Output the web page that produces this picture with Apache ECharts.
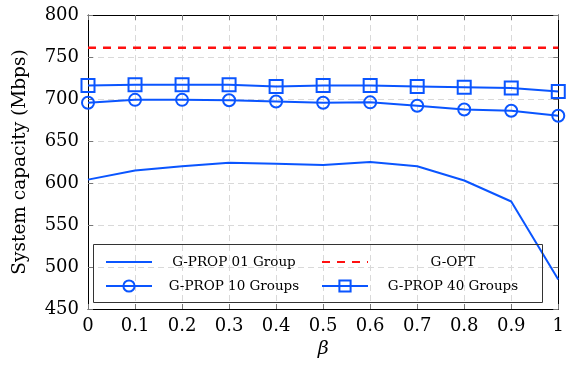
<!DOCTYPE html>
<html>
<head>
<meta charset="utf-8">
<script src="https://cdn.jsdelivr.net/npm/echarts@6/dist/echarts.min.js"></script>
<style>
  html, body { margin: 0; padding: 0; background: #fff; }
  #chart { width: 567px; height: 365px; }
</style>
</head>
<body>
<div id="chart"></div>
<script>
// System capacity versus beta for the grouping schemes
const betaValues = [0, 0.1, 0.2, 0.3, 0.4, 0.5, 0.6, 0.7, 0.8, 0.9, 1];
const cap01Group = [604, 615, 620, 624, 623, 621.5, 625, 620, 603, 578, 485];
const cap10Groups = [695.5, 699, 699, 698.5, 697, 695.5, 696, 692, 687.5, 686, 680];
const cap40Groups = [716, 717, 717, 717, 715, 716, 716, 715, 714, 713, 709];
const capOpt = 761;
const yTicks = { min: 450, max: 800, step: 50 };

const BLUE = '#0a55ff';
const RED = '#ff1010';
const serif = 'DejaVu Serif';

const pairs = arr => betaValues.map((b, i) => [b, arr[i]]);

const frameAxis = {
  axisLine: { show: true, onZero: false, lineStyle: { color: '#000', width: 1 } },
  axisTick: { show: true, inside: true, length: 5, lineStyle: { color: '#777' } },
  axisLabel: { show: false },
  splitLine: { show: false }
};
const gridLine = { show: true, lineStyle: { color: '#d9d9d9', type: [6, 4], width: 1 } };
const tickFont = { fontFamily: serif, fontSize: 18, color: '#000' };

// rich style that centres a legend label in a fixed-width cell
const legendText = w => ({
  fontFamily: serif, fontSize: 13.5, color: '#000',
  rich: { c: { fontFamily: serif, fontSize: 13.5, color: '#000', width: w, align: 'center' } }
});
const hideSymbol = { color: 'rgba(0,0,0,0)', borderWidth: 0 };

const chart = echarts.init(document.getElementById('chart'), null, { renderer: 'canvas' });

chart.setOption({
  animation: false,
  backgroundColor: '#fff',
  grid: { left: 88, right: 3, top: 15, bottom: 56 },
  xAxis: [
    {
      type: 'value', min: 0, max: 1, interval: 0.1, position: 'bottom',
      name: 'β', nameLocation: 'middle', nameGap: 30,
      nameTextStyle: { fontFamily: serif, fontStyle: 'italic', fontSize: 19, color: '#000' },
      axisLine: { show: true, onZero: false, lineStyle: { color: '#000', width: 1 } },
      axisTick: { show: true, inside: true, length: 5, lineStyle: { color: '#777' } },
      axisLabel: Object.assign({ margin: 8, formatter: v => String(Math.round(v * 10) / 10) }, tickFont),
      splitLine: gridLine
    },
    Object.assign({ type: 'value', min: 0, max: 1, interval: 0.1, position: 'top' }, frameAxis)
  ],
  yAxis: [
    {
      type: 'value', min: yTicks.min, max: yTicks.max, interval: yTicks.step, position: 'left',
      name: 'System capacity (Mbps)', nameLocation: 'middle', nameGap: 58,
      nameTextStyle: { fontFamily: serif, fontSize: 18.5, color: '#000' },
      axisLine: { show: true, onZero: false, lineStyle: { color: '#000', width: 1 } },
      axisTick: { show: true, inside: true, length: 5, lineStyle: { color: '#777' } },
      axisLabel: Object.assign({ margin: 9 }, tickFont),
      splitLine: gridLine
    },
    Object.assign({ type: 'value', min: yTicks.min, max: yTicks.max, interval: yTicks.step, position: 'right' }, frameAxis)
  ],
  legend: [
    {
      orient: 'vertical', left: 100, top: 250, itemGap: 10,
      itemWidth: 46, itemHeight: 14,
      data: [
        { name: 'G-PROP 01 Group', itemStyle: hideSymbol },
        { name: 'G-PROP 10 Groups' }
      ],
      formatter: n => `{c|${n}}`,
      textStyle: legendText(154)
    },
    {
      orient: 'vertical', left: 316, top: 250, itemGap: 10,
      itemWidth: 46, itemHeight: 14,
      data: [
        { name: 'G-OPT', itemStyle: hideSymbol },
        { name: 'G-PROP 40 Groups' }
      ],
      formatter: n => `{c|${n}}`,
      textStyle: legendText(160)
    }
  ],
  graphic: [{
    type: 'rect', z: 100, silent: true,
    shape: { x: 93.5, y: 244.5, width: 449, height: 58 },
    style: { fill: 'transparent', stroke: '#333', lineWidth: 1 }
  }],
  series: [
    {
      name: 'G-PROP 01 Group', type: 'line', data: pairs(cap01Group),
      symbol: 'none', lineStyle: { color: BLUE, width: 2 }, itemStyle: { color: BLUE }, z: 3
    },
    {
      name: 'G-OPT', type: 'line', data: betaValues.map(b => [b, capOpt]),
      symbol: 'none', lineStyle: { color: RED, width: 2.5, type: [8, 7] },
      itemStyle: { color: RED }, z: 3
    },
    {
      name: 'G-PROP 10 Groups', type: 'line', data: pairs(cap10Groups),
      symbol: 'circle', symbolSize: 12, showAllSymbol: true,
      lineStyle: { color: BLUE, width: 2 },
      itemStyle: { color: 'rgba(255,255,255,0)', borderColor: BLUE, borderWidth: 2 }, z: 4
    },
    {
      name: 'G-PROP 40 Groups', type: 'line', data: pairs(cap40Groups),
      symbol: 'rect', symbolSize: 13, showAllSymbol: true,
      lineStyle: { color: BLUE, width: 2 },
      itemStyle: { color: 'rgba(255,255,255,0)', borderColor: BLUE, borderWidth: 2 }, z: 4
    }
  ]
});
</script>
</body>
</html>
